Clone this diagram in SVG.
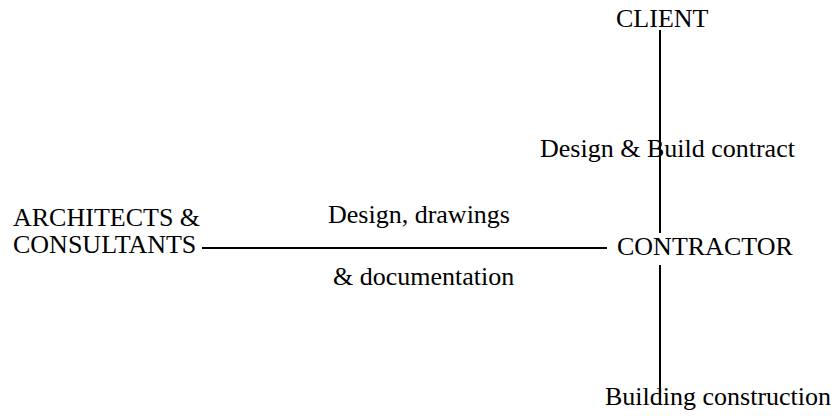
<svg xmlns="http://www.w3.org/2000/svg" width="838" height="416" viewBox="0 0 838 416">
<style>
text { font-family: "Liberation Serif", "Times New Roman", serif; font-size: 26px; fill: #000; }
.ln { stroke: #000; stroke-width: 2; fill: none; }
</style>
<rect width="838" height="416" fill="#fff"/>
<g id="connectors">
<line class="ln" x1="660" y1="30" x2="660" y2="233"/>
<line class="ln" x1="202" y1="248" x2="607" y2="248"/>
<line class="ln" x1="660" y1="265" x2="660" y2="399"/>
</g>
<g id="client"><text x="616" y="27">CLIENT</text></g>
<g id="contract-label"><text x="540" y="157">Design &amp; Build contract</text></g>
<g id="architects"><text x="13" y="226">ARCHITECTS &amp;</text><text x="13" y="253">CONSULTANTS</text></g>
<g id="design-label"><text x="328" y="223">Design, drawings</text><text x="333" y="285">&amp; documentation</text></g>
<g id="contractor"><text x="617" y="255">CONTRACTOR</text></g>
<g id="building"><text x="605" y="405">Building construction</text></g>
</svg>
